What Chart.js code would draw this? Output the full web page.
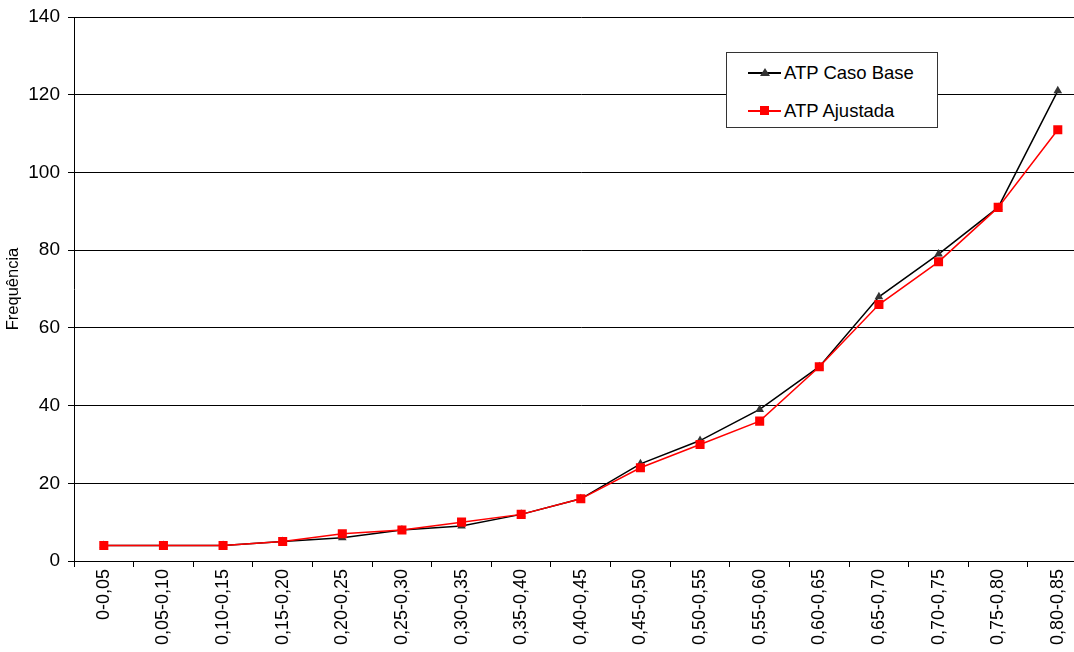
<!DOCTYPE html>
<html lang="pt">
<head>
    <meta charset="UTF-8">
    <title>Frequência ATP</title>
    <script src="https://cdn.jsdelivr.net/npm/chart.js"></script>
    <style>
        html, body { margin: 0; padding: 0; background: #fff; overflow: hidden; }
        .wrap { position: relative; width: 1094px; height: 652px; }
        #legend {
            position: absolute; left: 726px; top: 52px; width: 212px; height: 76px;
            border: 1px solid #333; background: #fff; box-sizing: border-box;
            font-family: "Liberation Sans", Arial, sans-serif; font-size: 18.5px; color: #000;
        }
        .row { position: absolute; left: 21px; height: 20px; display: flex; align-items: center; }
        .sample { position: relative; width: 33px; height: 20px; margin-right: 3px; }
        .sample .ln { position: absolute; left: 0; right: 0; top: 9px; height: 1.5px; }
        .tri { position: absolute; left: 12px; top: 5px; width: 0; height: 0;
               border-left: 5px solid transparent; border-right: 5px solid transparent; border-bottom: 8px solid #333; }
        .sq { position: absolute; left: 12px; top: 5px; width: 9px; height: 9px; background: #ff0000; }
    </style>
</head>
<body>
    <div class="wrap">
        <canvas id="chart" width="1094" height="652"></canvas>
        <div id="legend">
            <div class="row" style="top:10px"><div class="sample"><div class="ln" style="background:#000"></div><div class="tri"></div></div>ATP Caso Base</div>
            <div class="row" style="top:48px"><div class="sample"><div class="ln" style="background:#ff0000"></div><div class="sq"></div></div>ATP Ajustada</div>
        </div>
    </div>
    <script>
        const faixas = ['0-0,05', '0,05-0,10', '0,10-0,15', '0,15-0,20', '0,20-0,25', '0,25-0,30',
            '0,30-0,35', '0,35-0,40', '0,40-0,45', '0,45-0,50', '0,50-0,55', '0,55-0,60',
            '0,60-0,65', '0,65-0,70', '0,70-0,75', '0,75-0,80', '0,80-0,85'];
        const casoBase = [4, 4, 4, 5, 6, 8, 9, 12, 16, 25, 31, 39, 50, 68, 79, 91, 121];
        const ajustada = [4, 4, 4, 5, 7, 8, 10, 12, 16, 24, 30, 36, 50, 66, 77, 91, 111];

        const family = '"Liberation Sans", Arial, sans-serif';

        const ctx = document.getElementById('chart').getContext('2d');
        new Chart(ctx, {
            type: 'line',
            data: {
                labels: faixas,
                datasets: [
                    {
                        label: 'ATP Caso Base',
                        data: casoBase,
                        borderColor: '#000',
                        backgroundColor: '#333',
                        borderWidth: 1.5,
                        pointStyle: 'triangle',
                        pointRadius: 5,
                        pointBorderWidth: 0,
                        tension: 0,
                        order: 2
                    },
                    {
                        label: 'ATP Ajustada',
                        data: ajustada,
                        borderColor: '#ff0000',
                        backgroundColor: '#ff0000',
                        borderWidth: 1.5,
                        pointStyle: 'rect',
                        pointRadius: 6.4,
                        pointBorderWidth: 0,
                        tension: 0,
                        order: 1
                    }
                ]
            },
            options: {
                responsive: false,
                animation: false,
                layout: { padding: { top: 17, right: 3, left: 0, bottom: 0 } },
                plugins: {
                    legend: { display: false },
                    tooltip: { enabled: false }
                },
                scales: {
                    x: {
                        offset: true,
                        grid: { offset: true, drawOnChartArea: false, color: '#000', tickLength: 6 },
                        border: { color: '#000' },
                        ticks: { color: '#000', font: { family: family, size: 18 }, minRotation: 90, maxRotation: 90, autoSkip: false, padding: 2 },
                        afterFit: function(scale) { scale.height = 91; }
                    },
                    y: {
                        min: 0,
                        max: 140,
                        ticks: { stepSize: 20, color: '#000', font: { family: family, size: 19 }, padding: 8 },
                        grid: { color: '#000', tickLength: 6 },
                        border: { color: '#000' },
                        title: { display: true, text: 'Frequência', color: '#000', font: { family: family, size: 16.5 }, padding: { top: 4, bottom: 0 } },
                        afterFit: function(scale) {
                            scale.width = 74;
                            scale.paddingTop = 0;
                            scale.paddingBottom = 0;
                        }
                    }
                }
            }
        });
    </script>
</body>
</html>
